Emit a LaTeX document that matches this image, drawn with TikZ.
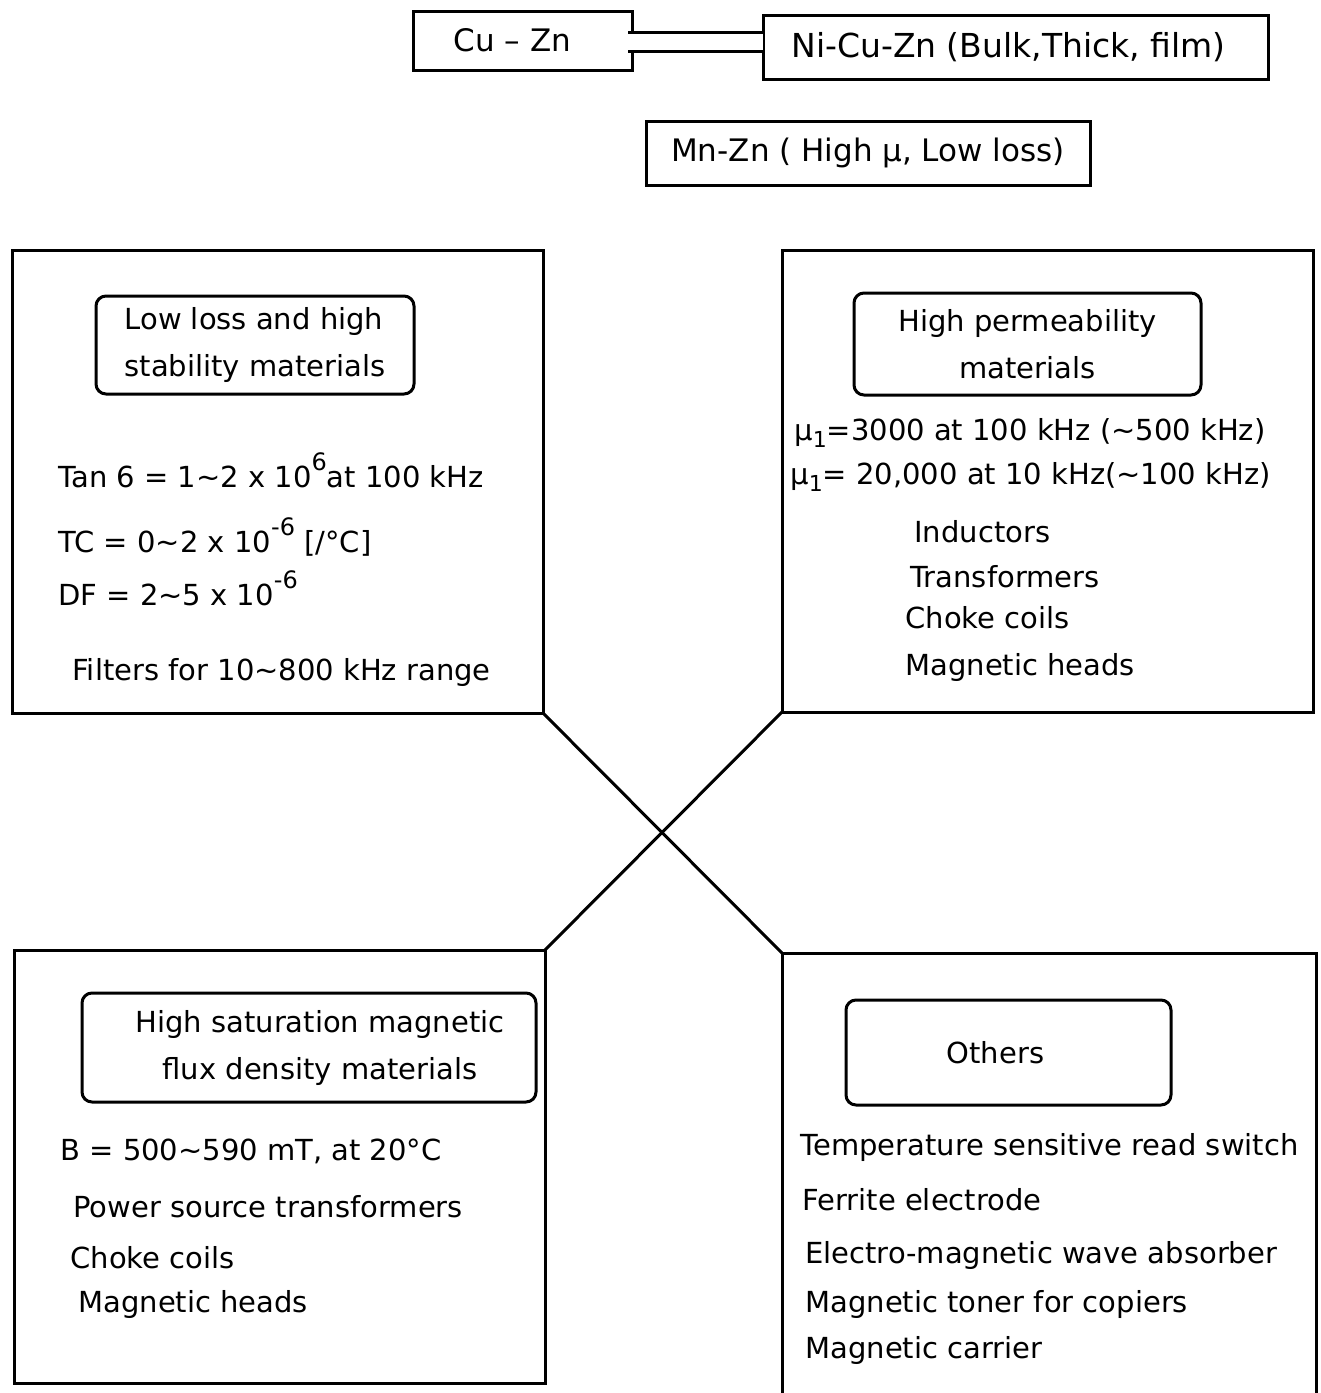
\documentclass[tikz,border=0pt]{standalone}
\usepackage{fontspec}
\setmainfont{DejaVu Sans}
\newcommand\myup[1]{\raisebox{1.05ex}{\fontsize{12}{12}\selectfont #1}}
\newcommand\mydn[1]{\raisebox{-0.45ex}{\fontsize{11}{11}\selectfont #1}}
\newcommand\tl{\textasciitilde}
\begin{document}
\begin{tikzpicture}[x=0.5pt,y=-0.5pt,
  edge/.style={line width=1.5pt, line join=miter},
  bigbox/.style={draw, line width=1.5pt, inner sep=0pt, outer sep=0pt},
  titlebox/.style={draw, line width=1.5pt, rounded corners=5pt, inner sep=0pt,
    align=center, font=\fontsize{14.5}{23.5}\selectfont},
  topbox/.style={draw, line width=1.5pt, inner sep=0pt, outer sep=0pt,
    font=\fontsize{15.5}{18}\selectfont},
  txt/.style={anchor=base west, inner sep=0pt, font=\fontsize{14.5}{17}\selectfont}]
\useasboundingbox (0,0) rectangle (1321,1393);

% top boxes
\node[topbox, minimum width=109.5pt, minimum height=29.5pt] (cu) at (522.5,40.5) {Cu -- Zn\hspace*{10pt}};
\node[topbox, minimum width=252.5pt, minimum height=32pt, font=\fontsize{16.5}{18}\selectfont] (ni) at (1015.5,47) {Ni-Cu-Zn (Bulk,Thick, film)\hspace*{7pt}};
\node[topbox, minimum width=222pt, minimum height=32pt] (mn) at (868,153) {Mn-Zn ( High μ, Low loss)};
\draw[line width=1.4pt, double, double distance=7.8pt, shorten <=-1.8pt]
  (cu.east |- 0,42) -- (ni.west |- 0,42);

% big boxes
\node[bigbox, minimum width=265.5pt, minimum height=231.5pt] (tl) at (277.5,481.5) {};
\node[bigbox, minimum width=265.5pt, minimum height=231pt] (tr) at (1047.5,481) {};
\node[bigbox, minimum width=265.5pt, minimum height=216.5pt] (bl) at (279.5,1166.5) {};
\node[inner sep=0pt, outer sep=0pt, minimum width=267pt, minimum height=228.5pt] (br) at (1049,1181.5) {};
\draw[edge] (br.south west) -- (br.north west) -- (br.north east) -- (br.south east);

% crossing connectors
\draw[edge] (tl.south east) -- (br.north west);
\draw[edge] (tr.south west) -- (bl.north east);

% title boxes
\node[titlebox, align=left, minimum width=159pt, minimum height=49pt] (tlt) at (255,345)
  {Low loss and high\\stability materials};
\node[titlebox, minimum width=173.5pt, minimum height=51pt] (trt) at (1027.5,344)
  {High permeability\\materials};
\node[titlebox, minimum width=227pt, minimum height=54.5pt] (blt) at (309,1047.5)
  {\hspace*{11pt}High saturation magnetic\\\hspace*{11pt}flux density materials};
\node[titlebox, minimum width=162.5pt, minimum height=52.5pt] (brt) at (1008.5,1052.5)
  {Others\hspace*{13pt}};

% top-left texts
\node[txt] (tl1) at (58,487) {Tan 6 = 1\tl 2 x 10\myup{6}at 100 kHz};
\node[txt] (tl2) at (58,552) {TC = 0\tl 2 x 10\myup{-6} [/°C]};
\node[txt] (tl3) at (58,605) {DF = 2\tl 5 x 10\myup{-6}};
\node[txt] (tl4) at (72,680) {Filters for 10\tl 800 kHz range};

% top-right texts
\node[txt] (tr1) at (794,440) {μ\mydn{1}=3000 at 100 kHz (\tl 500 kHz)};
\node[txt] (tr2) at (790,484) {μ\mydn{1}= 20,000 at 10 kHz(\tl 100 kHz)};
\node[txt] (tr3) at (914,542) {Inductors};
\node[txt] (tr4) at (910,587) {Transformers};
\node[txt] (tr5) at (905,628) {Choke coils};
\node[txt] (tr6) at (905,675) {Magnetic heads};

% bottom-left texts
\node[txt] (bl1) at (60,1160) {B = 500\tl 590 mT, at 20°C};
\node[txt] (bl2) at (73,1217) {Power source transformers};
\node[txt] (bl3) at (70,1268) {Choke coils};
\node[txt] (bl4) at (78,1312) {Magnetic heads};

% bottom-right texts
\node[txt] (br1) at (800,1155) {Temperature sensitive read switch};
\node[txt] (br2) at (802,1210) {Ferrite electrode};
\node[txt] (br3) at (805,1263) {Electro-magnetic wave absorber};
\node[txt] (br4) at (805,1312) {Magnetic toner for copiers};
\node[txt] (br5) at (805,1358) {Magnetic carrier};
\end{tikzpicture}
\end{document}
